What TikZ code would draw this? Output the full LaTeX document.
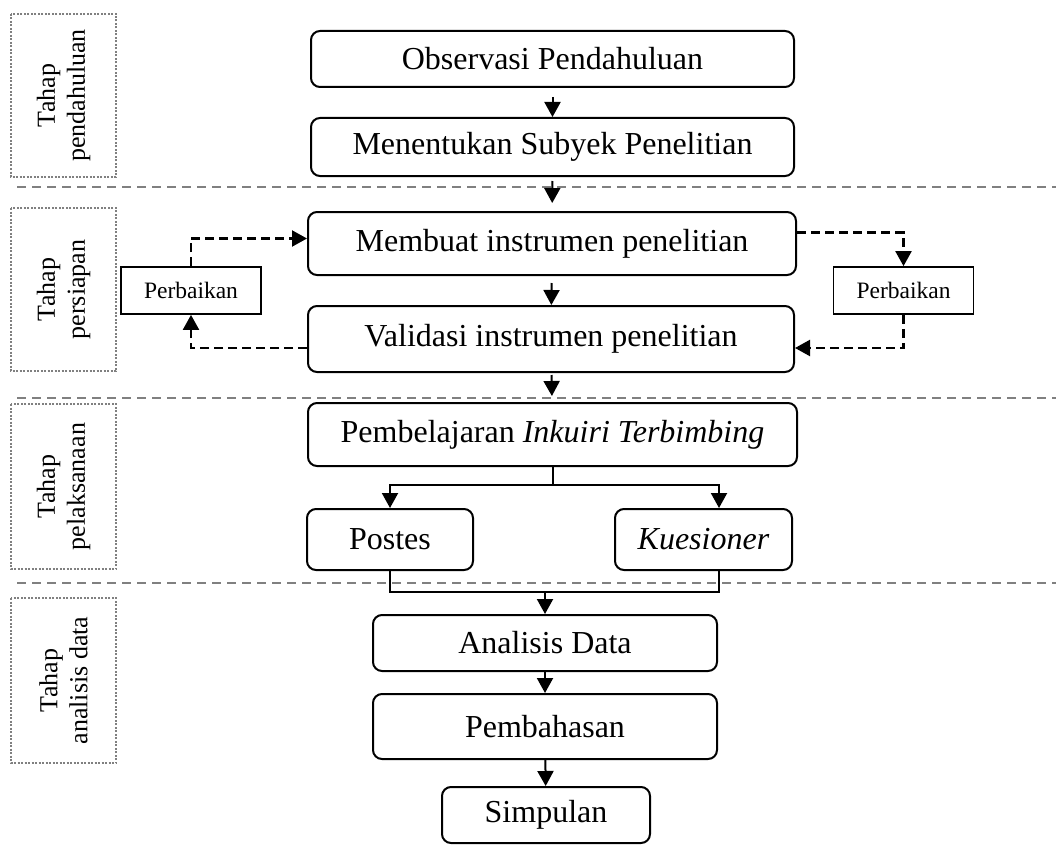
\documentclass[tikz,border=0pt]{standalone}
\usepackage{fontspec}
\setmainfont{Liberation Serif}
\usetikzlibrary{arrows.meta}

\begin{document}
\begin{tikzpicture}[
    x=1pt, y=-1pt,
    box/.style={draw, rounded corners=9pt, line width=2pt, inner sep=0pt, font=\fontsize{32}{38}\selectfont},
    fixbox/.style={draw, line width=1.8pt, inner sep=0pt, minimum width=140pt, minimum height=47pt, font=\fontsize{23.5}{28}\selectfont},
    stage/.style={draw=gray, line width=2pt, dash pattern=on 2pt off 1.5pt, rotate=90, align=center, minimum height=105pt, font=\fontsize{26}{30}\selectfont},
    line/.style={line width=2pt},
    arrow/.style={-{Triangle[length=15pt, width=16pt]}, line width=2pt},
    dasharrow/.style={-{Triangle[length=15pt, width=16pt]}, line width=2.2pt, dash pattern=on 9pt off 5pt},
    sep/.style={draw=gray, line width=2pt, dash pattern=on 9pt off 6pt}
]
\useasboundingbox (0,0) rectangle (1056,845);

% Stage separators using a loop
\foreach \y in {187,398,583} {
    \draw[sep] (17,\y) -- (1056,\y);
}

% Stage labels
\node[stage, minimum width=163pt] (tahap1) at (63.5,95.5) {Tahap\\pendahuluan};
\node[stage, minimum width=163pt] (tahap2) at (63.5,289.5) {Tahap\\persiapan};
\node[stage, minimum width=165pt] (tahap3) at (63.5,486.5) {Tahap\\pelaksanaan};
\node[stage, minimum width=165pt] (tahap4) at (63.5,680.5) {Tahap\\analisis data};

% Main steps
\node[box, minimum width=483pt, minimum height=56pt] (obs) at (552.5,59) {Observasi Pendahuluan};
\node[box, minimum width=483pt, minimum height=58pt] (subjek) at (552.5,147) {Menentukan Subyek Penelitian};
\node[box, minimum width=488pt, minimum height=63pt] (buat) at (552,243.5) {Membuat instrumen penelitian};
\node[box, minimum width=486pt, minimum height=66pt] (valid) at (551,339) {Validasi instrumen penelitian};
\node[box, minimum width=489pt, minimum height=63pt] (inkuiri) at (552.5,434.5) {Pembelajaran \textit{Inkuiri Terbimbing}};
\node[box, minimum width=166pt, minimum height=61pt] (postes) at (390,539.5) {Postes};
\node[box, minimum width=177pt, minimum height=61pt] (kues) at (703.5,539.5) {\textit{Kuesioner}};
\node[box, minimum width=344pt, minimum height=56pt] (analisis) at (545,643) {Analisis Data};
\node[box, minimum width=344pt, minimum height=65pt] (bahas) at (545,726.5) {Pembahasan};
\node[box, minimum width=208pt, minimum height=56pt] (simpul) at (546,815) {Simpulan};

% Revision boxes
\node[fixbox] (perbL) at (191,290.5) {Perbaikan};
\node[fixbox] (perbR) at (903.5,290.5) {Perbaikan};

% Flow arrows
\draw[arrow, shorten <=9pt] (obs) -- (subjek);
\draw[arrow, shorten <=4pt, shorten >=8pt] (subjek) -- (buat);
\draw[arrow, shorten <=7pt] (buat) -- (valid);
\draw[arrow, shorten <=2pt, shorten >=6pt] (valid) -- (inkuiri);
\draw[arrow] (analisis) -- (bahas);
\draw[arrow] (bahas) -- (simpul);

% Revision loops
\draw[dasharrow] ([yshift=-9pt]valid.west) -| (perbL.south);
\draw[dasharrow] (perbL.north) |- ([yshift=5pt]buat.west);
\draw[dasharrow] ([yshift=11pt]buat.east) -| (perbR.north);
\draw[dasharrow] (perbR.south) |- ([yshift=-9pt]valid.east);

% Branch to Postes and Kuesioner
\draw[line] (inkuiri.south) -- ++(0,18) coordinate (split);
\draw[arrow] (split) -| (postes.north);
\draw[arrow] (split) -| ([xshift=15.5pt]kues.north);

% Join into Analisis Data
\draw[line] (postes.south) -- ++(0,21) coordinate (pjoin) -| ([xshift=15.5pt]kues.south);
\draw[arrow] (analisis.north |- pjoin) -- (analisis.north);

\end{tikzpicture}
\end{document}
